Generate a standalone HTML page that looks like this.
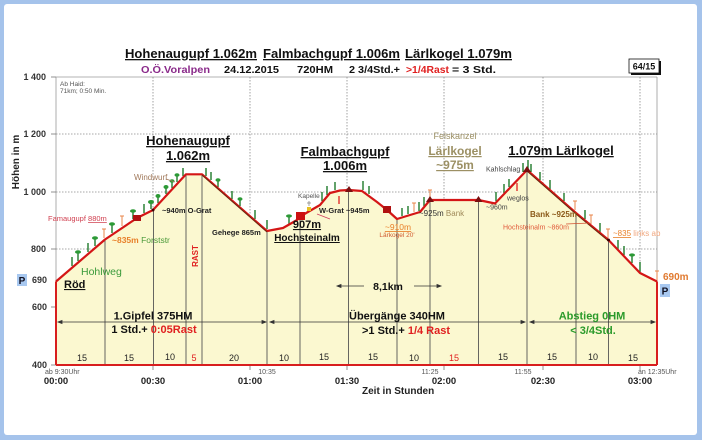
<!DOCTYPE html>
<html><head><meta charset="utf-8"><style>
html,body{margin:0;padding:0;background:#a5c3eb;}
svg{display:block;font-family:"Liberation Sans",Arial,sans-serif;}
.b{font-weight:bold;}
</style></head><body>
<svg width="702" height="440" viewBox="0 0 702 440" xmlns="http://www.w3.org/2000/svg">
<rect width="702" height="440" fill="#a5c3eb"/>
<rect x="4" y="4" width="693" height="431" rx="3" fill="#ffffff"/>

<!-- grid -->
<g stroke="#9a9a9a" stroke-width="0.8" fill="none">
<line x1="56" y1="77" x2="657" y2="77"/>
<line x1="657" y1="77" x2="657" y2="282"/>
<line x1="56" y1="77" x2="56" y2="365"/>
</g>
<g stroke="#8a8a8a" stroke-width="0.8" stroke-dasharray="1.5,1.5" fill="none">
<line x1="56" y1="134" x2="657" y2="134"/>
<line x1="56" y1="192" x2="657" y2="192"/>
<line x1="56" y1="249" x2="657" y2="249"/>
<line x1="153" y1="77" x2="153" y2="365"/>
<line x1="250" y1="77" x2="250" y2="365"/>
<line x1="347" y1="77" x2="347" y2="365"/>
<line x1="444" y1="77" x2="444" y2="365"/>
<line x1="543" y1="77" x2="543" y2="365"/>
<line x1="640" y1="77" x2="640" y2="365"/>
</g>
<!-- y ticks -->
<g stroke="#777" stroke-width="0.8">
<line x1="51" y1="77" x2="56" y2="77"/><line x1="51" y1="134" x2="56" y2="134"/>
<line x1="51" y1="192" x2="56" y2="192"/><line x1="51" y1="249" x2="56" y2="249"/>
<line x1="51" y1="307" x2="56" y2="307"/><line x1="51" y1="365" x2="56" y2="365"/>
<line x1="153" y1="365" x2="153" y2="370"/><line x1="250" y1="365" x2="250" y2="370"/>
<line x1="347" y1="365" x2="347" y2="370"/><line x1="444" y1="365" x2="444" y2="370"/>
<line x1="543" y1="365" x2="543" y2="370"/><line x1="640" y1="365" x2="640" y2="370"/>
</g>

<!-- fill -->
<polygon fill="#fbf8d0" points="56,281.5 105,239.5 137,218 153,210 186,174.3 202,174.3 267,231 283,228 297,220 301,216 320,205 330,193 340,190.5 349,190 362,191 377,202 387,210 397,219 410,215 420,212 430,200 478.5,200 495,203.5 527,170 576,213 608.5,240 640,273 657,281.5 657,365 56,365"/>

<!-- segment dividers -->
<g stroke="#555" stroke-width="0.9">
<line x1="105" y1="239.5" x2="105" y2="365"/>
<line x1="153.5" y1="210" x2="153.5" y2="365"/>
<line x1="186" y1="174.3" x2="186" y2="365"/>
<line x1="202" y1="174.3" x2="202" y2="365"/>
<line x1="267" y1="231" x2="267" y2="365"/>
<line x1="300" y1="217" x2="300" y2="365"/>
<line x1="348.5" y1="190" x2="348.5" y2="365"/>
<line x1="397" y1="219" x2="397" y2="365"/>
<line x1="430" y1="200" x2="430" y2="365"/>
<line x1="478.5" y1="200" x2="478.5" y2="365"/>
<line x1="527" y1="170" x2="527" y2="365"/>
<line x1="576" y1="213" x2="576" y2="365"/>
<line x1="608.5" y1="240" x2="608.5" y2="365"/>
</g>

<!-- red borders -->
<g stroke="#d81e1e" stroke-width="2" fill="none">
<line x1="56" y1="281.5" x2="56" y2="365"/>
<line x1="56" y1="365" x2="657" y2="365"/>
<line x1="657" y1="281.5" x2="657" y2="365"/>
</g>

<!-- trees -->
<g stroke="#1f7a2a" stroke-width="1.4">
<line x1="72" y1="266" x2="72" y2="257"/><line x1="78" y1="261" x2="78" y2="252"/>
<line x1="88" y1="252" x2="88" y2="243"/><line x1="95" y1="246" x2="95" y2="238"/>
<line x1="112" y1="233" x2="112" y2="224"/><line x1="133" y1="219" x2="133" y2="211"/>
<line x1="144" y1="213" x2="144" y2="204"/><line x1="151" y1="209" x2="151" y2="201"/>
<line x1="158" y1="203" x2="158" y2="195"/><line x1="166" y1="194" x2="166" y2="186"/>
<line x1="172" y1="188" x2="172" y2="180"/><line x1="177" y1="182" x2="177" y2="175"/>
<line x1="183" y1="176" x2="183" y2="168"/><line x1="206" y1="176" x2="206" y2="168"/>
<line x1="211" y1="180" x2="211" y2="172"/><line x1="218" y1="187" x2="218" y2="179"/>
<line x1="232" y1="199" x2="232" y2="191"/><line x1="240" y1="206" x2="240" y2="198"/>
<line x1="255" y1="219" x2="255" y2="210"/><line x1="267" y1="229" x2="267" y2="220"/>
<line x1="289" y1="224" x2="289" y2="216"/><line x1="322" y1="201" x2="322" y2="192"/>
<line x1="327" y1="195" x2="327" y2="186"/><line x1="335" y1="190" x2="335" y2="182"/>
<line x1="363" y1="190" x2="363" y2="181"/><line x1="369" y1="194" x2="369" y2="186"/>
<line x1="402" y1="216" x2="402" y2="208"/><line x1="408" y1="214" x2="408" y2="206"/>
<line x1="419" y1="211" x2="419" y2="202"/><line x1="424" y1="206" x2="424" y2="197"/>
<line x1="496" y1="201" x2="496" y2="192"/><line x1="504" y1="193" x2="504" y2="184"/>
<line x1="509" y1="187" x2="509" y2="179"/><line x1="523" y1="172" x2="523" y2="163"/>
<line x1="528" y1="169" x2="528" y2="160"/><line x1="531" y1="172" x2="531" y2="164"/>
<line x1="540" y1="180" x2="540" y2="172"/><line x1="550" y1="189" x2="550" y2="180"/>
<line x1="564" y1="201" x2="564" y2="193"/><line x1="585" y1="219" x2="585" y2="210"/>
<line x1="600" y1="232" x2="600" y2="223"/><line x1="618" y1="249" x2="618" y2="240"/>
<line x1="624" y1="255" x2="624" y2="246"/><line x1="632" y1="263" x2="632" y2="255"/>
<line x1="640" y1="272" x2="640" y2="262"/>
</g>
<g fill="#2c9a36">
<ellipse cx="78" cy="252" rx="3" ry="1.8"/><ellipse cx="95" cy="238" rx="3" ry="1.8"/>
<ellipse cx="112" cy="224" rx="3" ry="1.8"/><ellipse cx="133" cy="211" rx="3" ry="1.8"/>
<ellipse cx="151" cy="202" rx="3" ry="2"/><ellipse cx="158" cy="196" rx="2.5" ry="2"/>
<ellipse cx="166" cy="187" rx="2.5" ry="2"/><ellipse cx="172" cy="181" rx="2.5" ry="1.8"/>
<ellipse cx="177" cy="175" rx="2.5" ry="1.8"/><ellipse cx="218" cy="180" rx="2.5" ry="1.8"/>
<ellipse cx="240" cy="199" rx="2.5" ry="1.8"/><ellipse cx="289" cy="216" rx="3" ry="1.6"/>
<ellipse cx="632" cy="255" rx="3" ry="1.6"/>
</g>
<!-- orange posts -->
<g stroke="#e8844a" stroke-width="1">
<line x1="104" y1="238" x2="104" y2="229"/><line x1="102" y1="229" x2="106" y2="229"/>
<line x1="122" y1="226" x2="122" y2="216"/><line x1="120" y1="216" x2="124" y2="216"/>
<line x1="414" y1="212" x2="414" y2="203"/><line x1="412" y1="203" x2="416" y2="203"/>
<line x1="430" y1="198" x2="430" y2="190"/><line x1="428" y1="190" x2="432" y2="190"/>
<line x1="575" y1="210" x2="575" y2="201"/><line x1="573" y1="201" x2="577" y2="201"/>
<line x1="591" y1="224" x2="591" y2="215"/><line x1="589" y1="215" x2="593" y2="215"/>
<line x1="608" y1="238" x2="608" y2="229"/><line x1="606" y1="229" x2="610" y2="229"/>
<line x1="657" y1="280" x2="657" y2="271"/><line x1="655" y1="271" x2="659" y2="271"/>
</g>

<!-- profile line -->
<polyline fill="none" stroke="#d41616" stroke-width="2.2" stroke-linejoin="round" points="56,281.5 105,239.5 137,218 153,210 186,174.3 202,174.3 267,231 283,228 297,220 301,216 320,205 330,193 340,190.5 349,190 362,191 377,202 387,210 397,219 410,215 420,212 430,200 478.5,200 495,203.5 527,170 576,213 608.5,240 640,273 657,281.5"/>
<polyline fill="none" stroke="#6b2a10" stroke-width="1" points="527,171 576,214 608.5,241"/>
<polyline fill="none" stroke="#6b2a10" stroke-width="1" points="202,175 267,232"/>
<!-- markers -->
<rect x="133" y="215" width="8" height="6" fill="#b01010"/>
<rect x="296" y="212" width="9" height="8" fill="#cc1010"/>
<rect x="383" y="206" width="8" height="7" fill="#b01010"/>
<polygon points="430,196 426,202 434,202" fill="#7a1010"/>
<polygon points="478.5,196 474.5,202 482.5,202" fill="#7a1010"/>
<polygon points="349,186 345,192 353,192" fill="#7a1010"/>
<polygon points="527,166 523,172 531,172" fill="#7a1010"/>
<circle cx="153" cy="210" r="1.5" fill="#400"/>
<circle cx="608.5" cy="240" r="1.5" fill="#400"/>
<rect x="307" y="207" width="4" height="4" fill="#e8c020"/>
<line x1="309" y1="201" x2="309" y2="206" stroke="#888" stroke-width="0.8"/>
<line x1="307" y1="203" x2="311" y2="203" stroke="#888" stroke-width="0.8"/>
<line x1="339" y1="196" x2="339" y2="204" stroke="#e02020" stroke-width="1.3"/>
<line x1="517" y1="183" x2="517" y2="191" stroke="#e02020" stroke-width="1.3"/>

<!-- arrows row -->
<g stroke="#333" stroke-width="0.8" fill="#333">
<line x1="58" y1="322" x2="266" y2="322"/>
<line x1="270" y1="322" x2="525" y2="322"/>
<line x1="530" y1="322" x2="655" y2="322"/>
<polygon points="58,322 62,320.5 62,323.5"/><polygon points="266,322 262,320.5 262,323.5"/>
<polygon points="270,322 274,320.5 274,323.5"/><polygon points="525,322 521,320.5 521,323.5"/>
<polygon points="530,322 534,320.5 534,323.5"/><polygon points="655,322 651,320.5 651,323.5"/>
<line x1="337" y1="286" x2="364" y2="286"/><polygon points="337,286 341,284.5 341,287.5"/>
<line x1="414" y1="286" x2="441" y2="286"/><polygon points="441,286 437,284.5 437,287.5"/>
<line x1="317" y1="214" x2="330" y2="219" stroke="#d04060"/>
<line x1="566" y1="224" x2="590" y2="223" stroke="#d05030"/>
<line x1="166" y1="179" x2="175" y2="182" stroke="#a0785a"/>
</g>

<!-- title -->
<g class="b" font-size="13" fill="#111" text-decoration="underline">
<text x="125" y="58" textLength="132" lengthAdjust="spacingAndGlyphs">Hohenaugupf 1.062m</text>
<text x="263" y="58" textLength="137" lengthAdjust="spacingAndGlyphs">Falmbachgupf 1.006m</text>
<text x="405" y="58" textLength="107" lengthAdjust="spacingAndGlyphs">Lärlkogel 1.079m</text>
</g>
<g class="b" font-size="10.5" fill="#111">
<text x="141" y="73" fill="#8a2a8a" textLength="69" lengthAdjust="spacingAndGlyphs">O.Ö.Voralpen</text>
<text x="224" y="73" textLength="55" lengthAdjust="spacingAndGlyphs">24.12.2015</text>
<text x="297" y="73" textLength="36" lengthAdjust="spacingAndGlyphs">720HM</text>
<text x="349" y="73" textLength="51" lengthAdjust="spacingAndGlyphs">2 3/4Std.+</text>
<text x="406" y="73" fill="#e02020" textLength="43" lengthAdjust="spacingAndGlyphs">&gt;1/4Rast</text>
<text x="452" y="73" textLength="44" lengthAdjust="spacingAndGlyphs">= 3 Std.</text>
</g>
<!-- 64/15 box -->
<rect x="631" y="61" width="30" height="14" fill="#111"/>
<rect x="629" y="59" width="30" height="14" fill="#fff" stroke="#111" stroke-width="0.8"/>
<text x="644" y="69.5" class="b" font-size="9" text-anchor="middle" fill="#111">64/15</text>

<!-- y labels -->
<g class="b" font-size="9" fill="#333" text-anchor="end">
<text x="46" y="80">1 400</text>
<text x="46" y="137">1 200</text>
<text x="46" y="195">1 000</text>
<text x="46" y="252">800</text>
<text x="47" y="283">690</text>
<text x="47" y="310">600</text>
<text x="47" y="368">400</text>
</g>
<rect x="17" y="274" width="10" height="12" fill="#a8c8f0"/>
<text x="22" y="284" class="b" font-size="10" text-anchor="middle" fill="#112">P</text>
<rect x="660" y="284" width="10" height="13" fill="#a8c8f0"/>
<text x="665" y="294.5" class="b" font-size="10" text-anchor="middle" fill="#112">P</text>
<text transform="translate(19,162) rotate(-90)" class="b" font-size="10" text-anchor="middle" fill="#222">Höhen in m</text>

<text x="60" y="86" font-size="6.5" fill="#555">Ab Haid:</text>
<text x="60" y="93" font-size="6.5" fill="#555">71km; 0:50 Min.</text>

<!-- peak labels -->
<g class="b" font-size="13" fill="#111" text-anchor="middle" text-decoration="underline">
<text x="188" y="145">Hohenaugupf</text>
<text x="188" y="160">1.062m</text>
<text x="345" y="156">Falmbachgupf</text>
<text x="345" y="170">1.006m</text>
<text x="561" y="155">1.079m Lärlkogel</text>
</g>
<text x="455" y="139" font-size="9" fill="#9c9064" text-anchor="middle">Felskanzel</text>
<g class="b" font-size="12" fill="#9c9064" text-anchor="middle" text-decoration="underline">
<text x="455" y="155">Lärlkogel</text>
<text x="455" y="169">~975m</text>
</g>

<!-- small annotations -->
<text x="134" y="180" font-size="8" fill="#a0785a">Windwurf</text>
<text x="48" y="221" font-size="7.5" fill="#d04050">Famaugupf <tspan text-decoration="underline">880m</tspan></text>
<text x="112" y="243" class="b" font-size="8.5" fill="#e8802a">~835m <tspan font-weight="normal" fill="#4a9a3a">Forststr</tspan></text>
<text x="81" y="275" font-size="10.5" fill="#3a9a3a">Hohlweg</text>
<text x="64" y="288" class="b" font-size="11" fill="#111" text-decoration="underline">Röd</text>
<text x="162" y="213" class="b" font-size="7.5" fill="#222">~940m O-Grat</text>
<text transform="translate(198,256) rotate(-90)" class="b" font-size="8" fill="#e02020" text-anchor="middle">RAST</text>
<text x="212" y="235" class="b" font-size="7.5" fill="#222">Gehege  865m</text>
<text x="307" y="228" class="b" font-size="11" fill="#111" text-anchor="middle" text-decoration="underline">907m</text>
<text x="307" y="241" class="b" font-size="10" fill="#111" text-anchor="middle" text-decoration="underline">Hochsteinalm</text>
<text x="298" y="198" font-size="6.5" fill="#555">Kapelle</text>
<text x="319" y="213" class="b" font-size="7.5" fill="#222">W-Grat ~945m</text>
<text x="398" y="230" font-size="8.5" fill="#e8802a" text-anchor="middle" text-decoration="underline">~910m</text>
<text x="397" y="237" font-size="6.5" fill="#d05a30" text-anchor="middle">Lärkogel 20'</text>
<text x="419" y="216" font-size="8" fill="#333">~925m <tspan fill="#a08a5a">Bank</tspan></text>
<text x="486" y="171.5" font-size="7" fill="#444">Kahlschlag</text>
<text x="507" y="200.5" font-size="7" fill="#444">weglos</text>
<text x="486" y="209.5" font-size="7" fill="#444">~960m</text>
<text x="530" y="217" class="b" font-size="8" fill="#8b5a1a">Bank ~925m</text>
<text x="503" y="229.5" font-size="7" fill="#e05a3a">Hochsteinalm ~860m</text>
<text x="613" y="236" font-size="8" fill="#e8802a"><tspan text-decoration="underline">~835</tspan> <tspan fill="#f0a880">links ab</tspan></text>
<text x="663" y="280" class="b" font-size="10" fill="#e07a30">690m</text>
<text x="388" y="290" class="b" font-size="10.5" fill="#111" text-anchor="middle">8,1km</text>

<!-- section labels -->
<g class="b" font-size="11" fill="#111" text-anchor="middle">
<text x="153" y="319.5">1.Gipfel 375HM</text>
<text x="154" y="333">1 Std.+ <tspan fill="#e02020">0:05Rast</tspan></text>
<text x="397" y="319.5">Übergänge 340HM</text>
<text x="406" y="334">&gt;1 Std.+ <tspan fill="#e02020">1/4 Rast</tspan></text>
<text x="592" y="319.5" fill="#2a9a2a">Abstieg 0HM</text>
<text x="593" y="334" fill="#2a9a2a">&lt; 3/4Std.</text>
</g>

<!-- segment minutes -->
<g font-size="9" fill="#222" text-anchor="middle">
<text x="82" y="361">15</text><text x="129" y="361">15</text><text x="170" y="360">10</text>
<text x="194" y="361" fill="#e02020">5</text><text x="234" y="361">20</text><text x="284" y="361">10</text>
<text x="324" y="360">15</text><text x="373" y="360">15</text><text x="414" y="361">10</text>
<text x="454" y="361" fill="#e02020">15</text><text x="503" y="360">15</text><text x="552" y="360">15</text>
<text x="593" y="360">10</text><text x="633" y="361">15</text>
</g>

<!-- time sub labels -->
<g font-size="7" fill="#555">
<text x="45" y="374">ab 9:30Uhr</text>
<text x="267" y="374" text-anchor="middle">10:35</text>
<text x="430" y="374" text-anchor="middle">11:25</text>
<text x="523" y="374" text-anchor="middle">11:55</text>
<text x="638" y="374">an 12:35Uhr</text>
</g>
<g class="b" font-size="9.5" fill="#222" text-anchor="middle">
<text x="56" y="384">00:00</text>
<text x="153" y="384">00:30</text>
<text x="250" y="384">01:00</text>
<text x="347" y="384">01:30</text>
<text x="444" y="384">02:00</text>
<text x="543" y="384">02:30</text>
<text x="640" y="384">03:00</text>
</g>
<text x="362" y="394" class="b" font-size="10" fill="#222">Zeit in Stunden</text>
</svg>
</body></html>
